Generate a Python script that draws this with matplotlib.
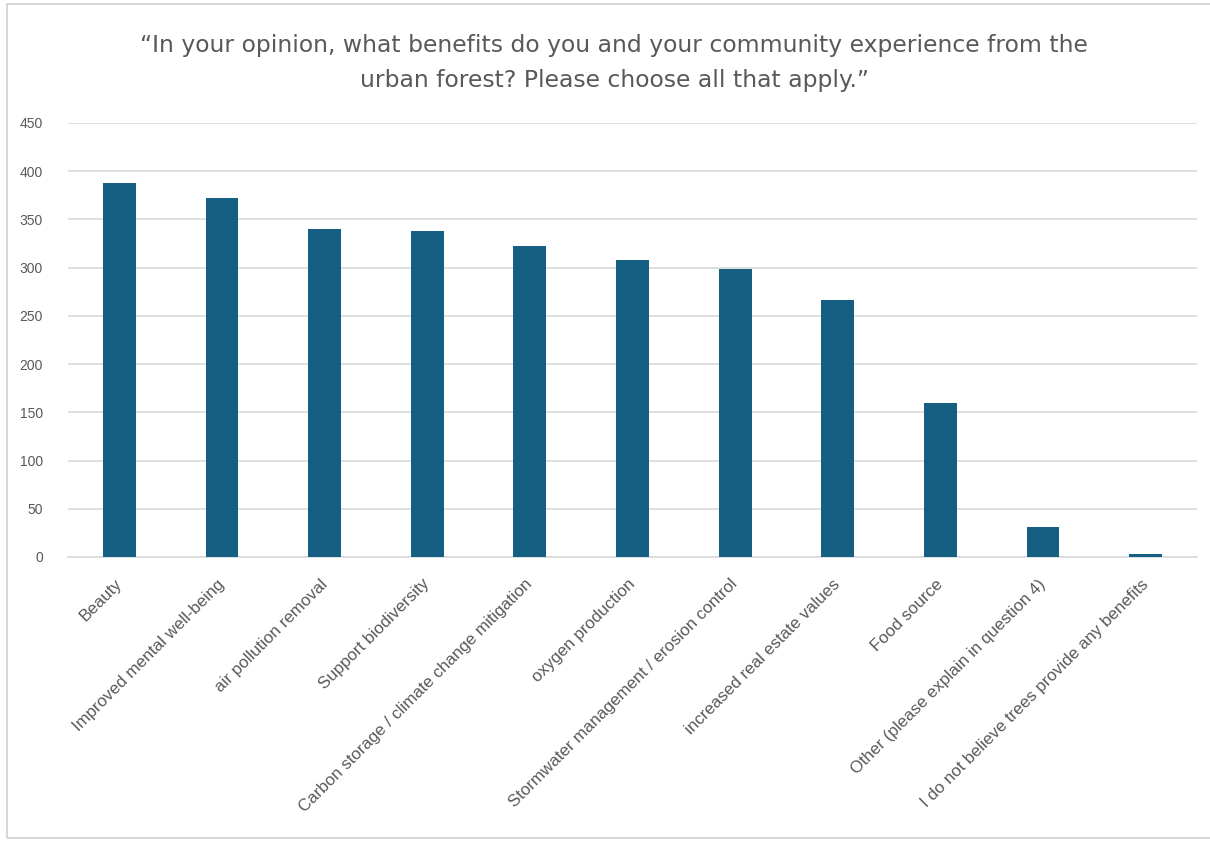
import matplotlib
matplotlib.use("Agg")
import matplotlib.pyplot as plt
from matplotlib.patches import Rectangle
from matplotlib.transforms import ScaledTranslation

categories = [
    "Beauty",
    "Improved mental well-being",
    "air pollution removal",
    "Support biodiversity",
    "Carbon storage / climate change mitigation",
    "oxygen production",
    "Stormwater management / erosion control",
    "increased real estate values",
    "Food source",
    "Other (please explain in question 4)",
    "I do not believe trees provide any benefits",
]
values = [388, 372, 340, 338, 322, 308, 299, 266, 160, 31, 3]
yticks = [0, 50, 100, 150, 200, 250, 300, 350, 400, 450]
title = "\u201cIn your opinion, what benefits do you and your community experience from the\nurban forest? Please choose all that apply.\u201d"

bar_color = "#156082"
text_color = "#595959"
grid_color = "#d9d9d9"

fig = plt.figure(figsize=(12.1, 8.42), dpi=100)
ax = fig.add_axes([68/1210, 1-557/842, (1197-68)/1210, (557-123)/842])

x = list(range(len(categories)))
ax.bar(x, values, width=0.32, color=bar_color, zorder=3)
ax.set_xlim(-0.5, len(categories)-0.5)
ax.set_ylim(0, 450)
ax.set_yticks(yticks)
ax.set_yticklabels([str(t) for t in yticks], fontsize=10, color=text_color,
                   family=['Liberation Sans', 'DejaVu Sans'])
ax.tick_params(axis='y', length=0, pad=18)
ax.set_xticks(x)
ax.set_xticklabels(categories, rotation=45, ha='right', va='top', rotation_mode='anchor',
                   fontsize=12.2, color=text_color, family=['Liberation Sans', 'DejaVu Sans'])
ax.tick_params(axis='x', length=0, pad=14)
offset = ScaledTranslation(-5/100, 0, fig.dpi_scale_trans)
for lbl in ax.get_xticklabels():
    lbl.set_transform(lbl.get_transform() + offset)
ax.yaxis.grid(True, color=grid_color, linewidth=1.2, zorder=0)
for s in ['top', 'right', 'left']:
    ax.spines[s].set_visible(False)
ax.spines['bottom'].set_color(grid_color)
ax.spines['bottom'].set_linewidth(1.2)

fig.text(614/1210, 1-63/842, title, ha='center', va='center', fontsize=16.9,
         color=text_color, linespacing=1.65)

fig.patches.append(Rectangle((7/1210, 1-838/842), 1, (838-4)/842, transform=fig.transFigure,
                             fill=False, edgecolor="#d0d0d0", linewidth=1.2))

fig.savefig("out.png", dpi=100)
